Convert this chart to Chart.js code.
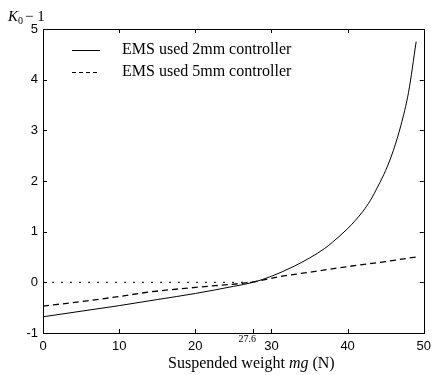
<!DOCTYPE html>
<html><head><meta charset="utf-8">
<script src="https://cdn.jsdelivr.net/npm/chart.js@4/dist/chart.umd.min.js"></script>
<style>html,body{margin:0;padding:0;background:#fff;}#wrap{width:437px;height:375px;}</style>
</head><body><div id="wrap"><canvas id="c"></canvas></div>
<script>
// Data
const solidX = [0, 5, 10, 15, 20, 25, 27.6, 30, 33, 35, 37, 38, 40, 41, 42, 43, 44, 45, 46, 47, 48, 49];
const solidY = [-0.68, -0.57, -0.46, -0.34, -0.22, -0.08, 0, 0.12, 0.32, 0.48, 0.67, 0.79, 1.06, 1.22, 1.40, 1.62, 1.90, 2.21, 2.60, 3.10, 3.75, 4.75];
const dashX = [0, 5, 10, 14, 20, 27.6, 31, 35, 40, 45, 49];
const dashY = [-0.47, -0.38, -0.28, -0.19, -0.10, 0.01, 0.11, 0.20, 0.31, 0.41, 0.50];
const zeroX = [0, 27.6];
const zeroY = [0, 0];
const legendLabels = ["EMS used 2mm controller", "EMS used 5mm controller"];
const xTicks = [0, 10, 20, 30, 40, 50];
const yTicks = [-1, 0, 1, 2, 3, 4, 5];
const markX = 27.6;

const pts = (xs, ys) => xs.map((x, i) => ({x, y: ys[i]}));

const overlay = {
  id: 'overlay',
  afterDraw(chart) {
    const ctx = chart.ctx, a = chart.chartArea;
    const xs = chart.scales.x, ys = chart.scales.y;
    ctx.save();
    ctx.strokeStyle = '#000'; ctx.lineWidth = 1;
    ctx.strokeRect(Math.round(a.left) + 0.5, Math.round(a.top) + 0.5, Math.round(a.right - a.left), Math.round(a.bottom - a.top));
    ctx.beginPath();
    const tl = 4;
    [...xTicks, markX].forEach(v => {
      const p = Math.round(xs.getPixelForValue(v)) + 0.5;
      ctx.moveTo(p, a.bottom); ctx.lineTo(p, a.bottom - tl);
      if (v !== markX) { ctx.moveTo(p, a.top); ctx.lineTo(p, a.top + tl); }
    });
    yTicks.forEach(v => {
      const p = Math.round(ys.getPixelForValue(v)) + 0.5;
      ctx.moveTo(a.left, p); ctx.lineTo(a.left + tl, p);
      ctx.moveTo(a.right, p); ctx.lineTo(a.right - tl, p);
    });
    ctx.stroke();
    // legend
    ctx.fillStyle = '#000';
    ctx.font = '16px "Liberation Serif", "Times New Roman", serif';
    ctx.textBaseline = 'middle';
    const lx0 = 72, lx1 = 100, ly = [50, 72];
    ctx.lineWidth = 1;
    ctx.beginPath(); ctx.setLineDash([]);
    ctx.moveTo(lx0, ly[0] + 0.5); ctx.lineTo(lx1, ly[0] + 0.5); ctx.stroke();
    ctx.beginPath(); ctx.setLineDash([4, 3]); ctx.lineWidth = 1.2;
    ctx.moveTo(lx0, ly[1] + 0.5); ctx.lineTo(lx1, ly[1] + 0.5); ctx.stroke();
    ctx.setLineDash([]);
    ctx.fillText(legendLabels[0], 122, ly[0]);
    ctx.fillText(legendLabels[1], 122, ly[1]);
    // x axis title with italic mg
    ctx.textBaseline = 'alphabetic';
    let x = 168; const by = 368;
    const parts = [['Suspended weight ', ''], ['mg', 'italic '], [' (N)', '']];
    parts.forEach(([t, st]) => {
      ctx.font = st + '16px "Liberation Serif", "Times New Roman", serif';
      ctx.fillText(t, x, by); x += ctx.measureText(t).width;
    });
    // y label K0 - 1
    x = 8;
    ctx.font = 'italic 15px "Liberation Serif", serif';
    ctx.fillText('K', x, 21); x += ctx.measureText('K').width;
    ctx.font = '10px "Liberation Serif", serif';
    ctx.fillText('0', x, 24); x += ctx.measureText('0').width + 2;
    ctx.font = '15px "Liberation Serif", serif';
    ctx.fillText('\u2212 1', x, 21);
    // 27.6 label
    ctx.font = '10px "Liberation Serif", serif';
    ctx.textAlign = 'center';
    ctx.fillText('27.6', xs.getPixelForValue(markX) - 6, 342);
    ctx.restore();
  }
};

new Chart(document.getElementById('c'), {
  type: 'scatter',
  data: {
    datasets: [
      {label: legendLabels[0], data: pts(solidX, solidY), showLine: true, borderColor: '#000', borderWidth: 1, pointRadius: 0, cubicInterpolationMode: 'monotone', fill: false},
      {label: legendLabels[1], data: pts(dashX, dashY), showLine: true, borderColor: '#000', borderWidth: 1.3, borderDash: [6, 4], pointRadius: 0, cubicInterpolationMode: 'monotone', fill: false},
      {label: 'zero', data: pts(zeroX, zeroY), showLine: true, borderColor: '#000', borderWidth: 1, borderDash: [2, 7], pointRadius: 0, fill: false}
    ]
  },
  options: {
    responsive: true, maintainAspectRatio: false, animation: false,
    layout: {padding: {left: 0, right: 8, top: 29, bottom: 0}},
    plugins: {legend: {display: false}, tooltip: {enabled: false}},
    scales: {
      x: {
        type: 'linear', min: 0, max: 50,
        afterBuildTicks: s => { s.ticks = xTicks.map(v => ({value: v})); },
        afterFit: s => { s.height = 42; },
        grid: {display: false, drawTicks: false}, border: {display: false},
        ticks: {color: '#000', padding: 6, font: {family: '"Liberation Sans", Arial, sans-serif', size: 13}, maxRotation: 0}
      },
      y: {
        type: 'linear', min: -1, max: 5,
        afterBuildTicks: s => { s.ticks = yTicks.map(v => ({value: v})); },
        afterFit: s => { s.width = 43; },
        grid: {display: false, drawTicks: false}, border: {display: false},
        ticks: {color: '#000', padding: 5, font: {family: '"Liberation Sans", Arial, sans-serif', size: 13}}
      }
    }
  },
  plugins: [overlay]
});
</script></body></html>
